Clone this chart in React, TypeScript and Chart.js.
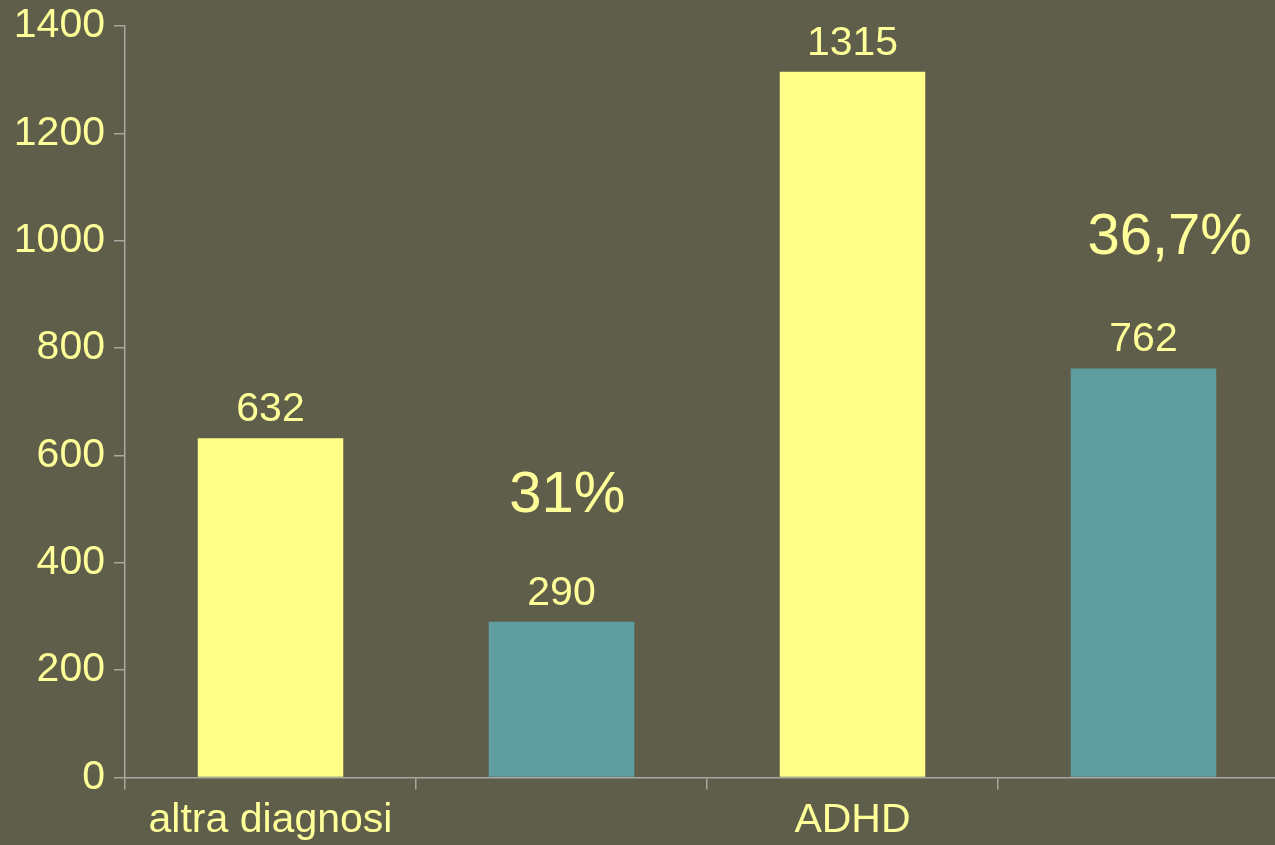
import React, { useEffect, useRef } from "react";
import { Chart, registerables } from "chart.js";

Chart.register(...registerables);

// Category slots along the x axis (only two carry a visible label)
const categories: string[] = ["altra diagnosi", "", "ADHD", ""];
// Bar heights
const values: number[] = [632, 290, 1315, 762];
const barColors: string[] = ["#FFFF88", "#5F9EA0", "#FFFF88", "#5F9EA0"];
// Y axis range and step
const yMin = 0;
const yMax = 1400;
const yStep = 200;
// Percentage callouts, anchored in data coordinates (category position, value at text baseline)
const calloutTexts: string[] = ["31%", "36,7%"];
const calloutPositions: number[] = [1.02, 3.09];
const calloutValues: number[] = [495, 976];

const BG = "#5F5E4B";
const TEXT = "#FFFF99";
const AXIS = "#A8A8A0";
const FONT = "'Liberation Sans', Arial, sans-serif";

const backgroundPlugin = {
  id: "bgFill",
  beforeDraw(chart: any) {
    const { ctx, width, height } = chart;
    ctx.save();
    ctx.fillStyle = BG;
    ctx.fillRect(0, 0, width, height);
    ctx.restore();
  },
};

const labelsPlugin = {
  id: "valueLabels",
  afterDatasetsDraw(chart: any) {
    const { ctx } = chart;
    const meta = chart.getDatasetMeta(0);
    ctx.save();
    ctx.fillStyle = TEXT;
    ctx.textAlign = "center";
    ctx.textBaseline = "alphabetic";
    ctx.font = `41px ${FONT}`;
    meta.data.forEach((bar: any, i: number) => {
      ctx.fillText(String(values[i]), bar.x, bar.y - 17);
    });
    const xs = chart.scales.x;
    const ys = chart.scales.y;
    ctx.font = `58px ${FONT}`;
    calloutTexts.forEach((t, i) => {
      ctx.fillText(t, xs.getPixelForValue(calloutPositions[i]), ys.getPixelForValue(calloutValues[i]));
    });
    ctx.restore();
  },
};

export default function App() {
  const canvasRef = useRef<HTMLCanvasElement | null>(null);

  useEffect(() => {
    document.body.style.margin = "0";
    document.body.style.overflow = "hidden";
    document.body.style.background = BG;
    const canvas = canvasRef.current;
    if (!canvas) return;
    const chart = new Chart(canvas, {
      type: "bar",
      data: {
        labels: categories,
        datasets: [
          {
            data: values,
            backgroundColor: barColors,
            borderWidth: 0,
            barPercentage: 0.5,
            categoryPercentage: 1.0,
          },
        ],
      },
      options: {
        animation: false,
        responsive: false,
        maintainAspectRatio: false,
        layout: { padding: { top: 26, left: 0, right: 0, bottom: 0 } },
        plugins: {
          legend: { display: false },
          tooltip: { enabled: false },
        },
        scales: {
          x: {
            type: "category",
            offset: true,
            grid: {
              offset: true,
              drawOnChartArea: false,
              drawTicks: true,
              tickLength: 12,
              color: AXIS,
              lineWidth: 1.5,
            },
            border: { display: true, color: AXIS, width: 1.5 },
            ticks: {
              color: TEXT,
              font: { family: FONT, size: 41 },
              padding: 7,
              maxRotation: 0,
              autoSkip: false,
            },
            afterFit(scale: any) {
              scale.height = 67.5;
              scale.paddingLeft = 0;
              scale.paddingRight = 0;
            },
          },
          y: {
            min: yMin,
            max: yMax,
            grid: {
              drawOnChartArea: false,
              drawTicks: true,
              tickLength: 11,
              color: AXIS,
              lineWidth: 1.5,
            },
            border: { display: true, color: AXIS, width: 1.5 },
            ticks: {
              stepSize: yStep,
              color: TEXT,
              font: { family: FONT, size: 41 },
              padding: 9,
              callback: (v: any) => String(v),
            },
            afterFit(scale: any) {
              scale.width = 125;
              scale.paddingTop = 0;
              scale.paddingBottom = 0;
            },
          },
        },
      },
      plugins: [backgroundPlugin, labelsPlugin],
    } as any);
    return () => chart.destroy();
  }, []);

  return (
    <div style={{ width: 1275, height: 845, overflow: "hidden", background: BG }}>
      <canvas ref={canvasRef} width={1289} height={845} style={{ display: "block" }} />
    </div>
  );
}
